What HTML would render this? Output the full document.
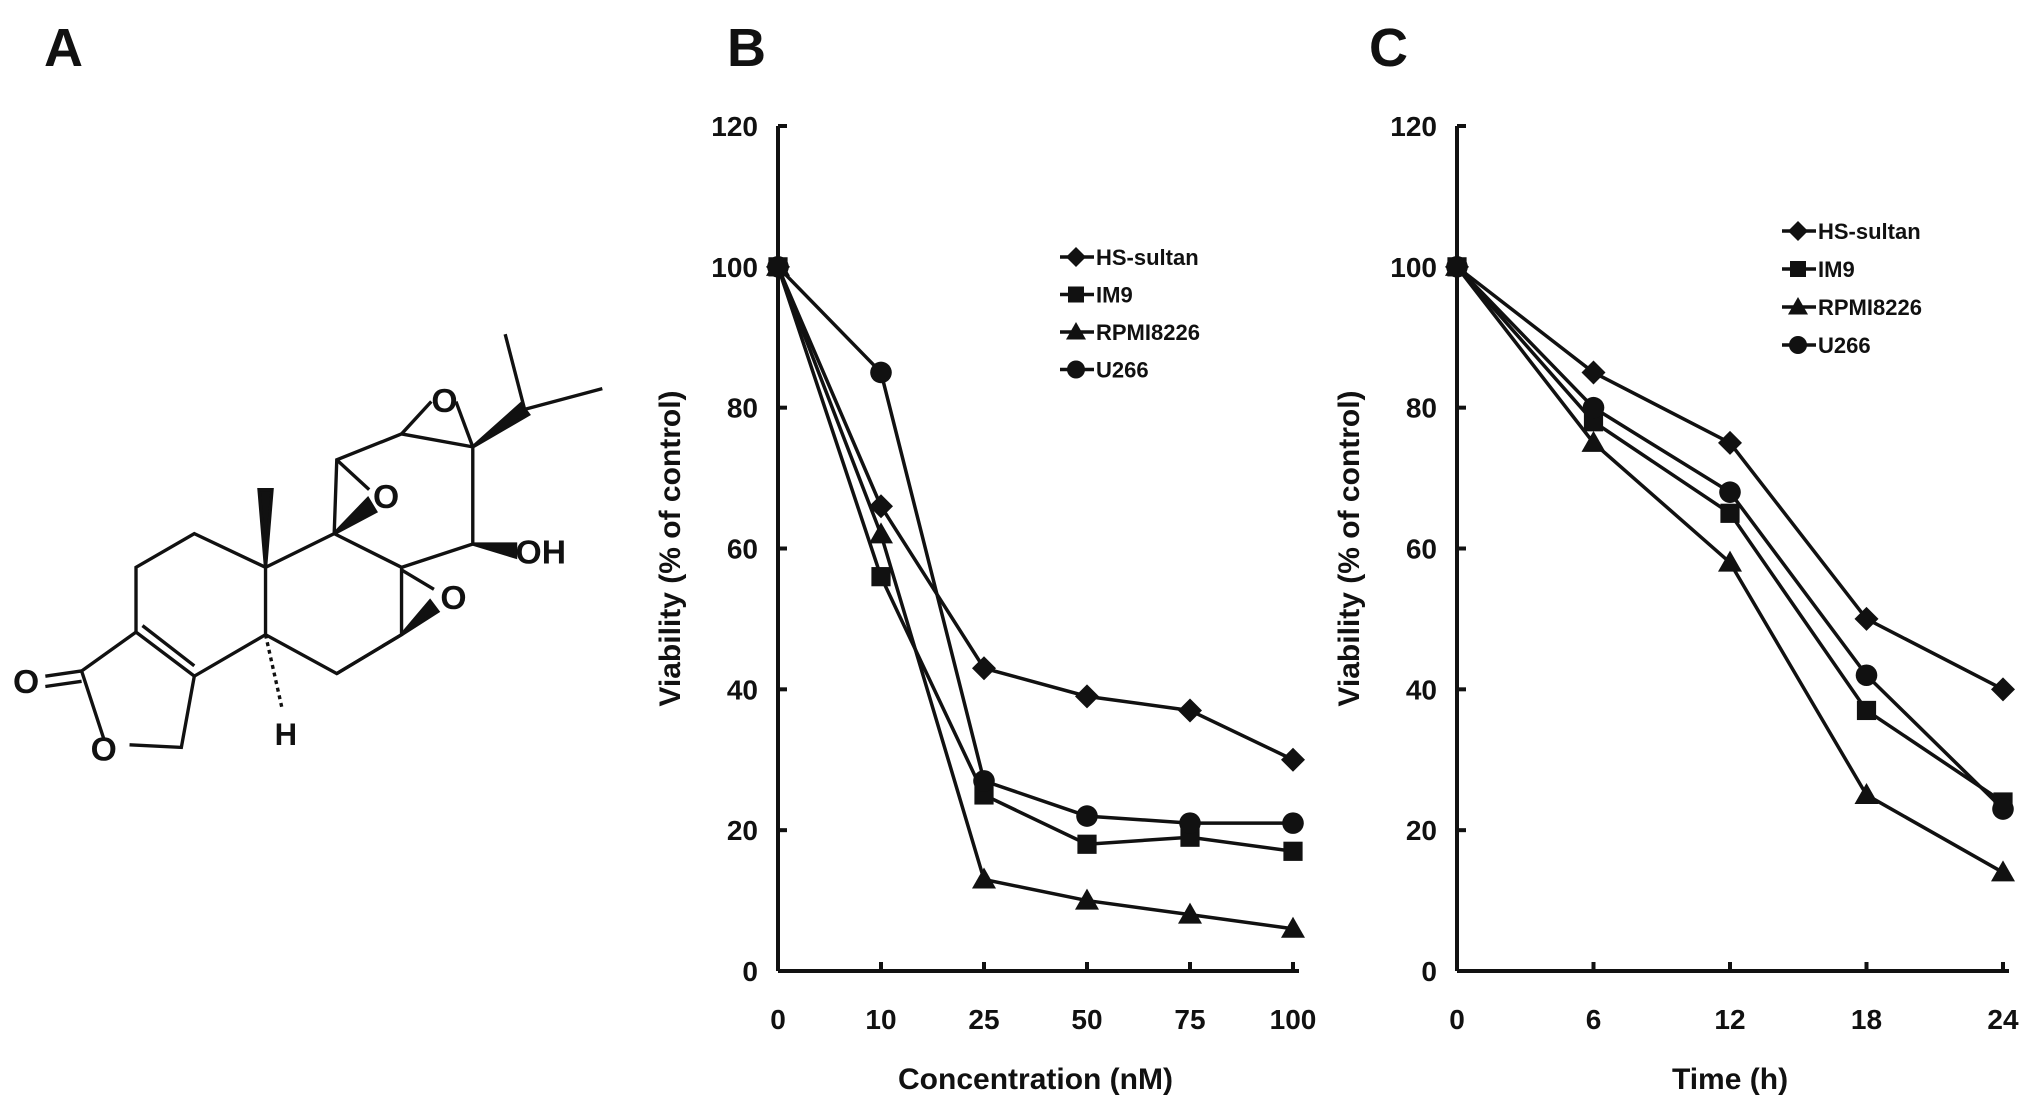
<!DOCTYPE html>
<html><head><meta charset="utf-8"><style>
html,body{margin:0;padding:0;background:#fff;width:2031px;height:1113px;overflow:hidden}
svg text{font-family:"Liberation Sans",sans-serif;font-weight:bold;fill:#111}
</style></head><body>
<svg id="fig" width="2031" height="1113" viewBox="0 0 2031 1113">
<text x="44" y="66" font-size="54">A</text>
<text x="727" y="66" font-size="54">B</text>
<text x="1369" y="66" font-size="54">C</text>
<g transform="scale(1.2953)" stroke="#111" stroke-width="2.6" fill="none">
<polyline points="105,488 105,438 150,412 205,438 205,490 150,522 105,488"/>
<line x1="110" y1="483" x2="150" y2="514"/>
<polyline points="105,488 63,518 80,570"/>
<polyline points="100,575 140,577 150,522"/>
<line x1="63" y1="518" x2="35" y2="522"/><line x1="63" y1="526" x2="35" y2="530"/>
<polyline points="205,438 258,412 310,438 310,490 260,520 205,490"/>
<polygon points="205,438 200,378 210,378" fill="#111"/>
<line x1="205" y1="490" x2="218" y2="548" stroke-dasharray="3,3"/>
<polyline points="258,412 260,355 310,335 365,345 365,420 310,438"/>
<polyline points="260,355 285,378"/><polygon points="258,412 290,395 284,385" fill="#111"/>
<polyline points="310,335 333,310"/><polyline points="352,310 365,345"/>
<polygon points="365,345 402,312 408,320" fill="#111"/>
<polyline points="405,316 390,258"/><polyline points="405,316 465,300"/>
<polygon points="365,420 398,420 398,430" fill="#111"/>
<polyline points="310,440 335,455"/><polygon points="310,490 338,472 332,464" fill="#111"/>
<polyline points="310,490 260,520"/>
</g>
<g transform="scale(1.2953)">
<text x="10" y="535" font-size="26" font-weight="normal">O</text>
<text x="70" y="587" font-size="26" font-weight="normal">O</text>
<text x="212" y="575" font-size="24">H</text>
<text x="333" y="318" font-size="26" font-weight="normal">O</text>
<text x="288" y="392" font-size="26" font-weight="normal">O</text>
<text x="340" y="470" font-size="26" font-weight="normal">O</text>
<text x="398" y="435" font-size="26" font-weight="normal">OH</text>
</g>
<g id="chartB"></g>
<g id="chartC"></g>
</svg>
<script>
const catsB = ["0","10","25","50","75","100"];
const hsB = [100,66,43,39,37,30];
const im9B = [100,56,25,18,19,17];
const rpmiB = [100,62,13,10,8,6];
const u266B = [100,85,27,22,21,21];
const catsC = ["0","6","12","18","24"];
const hsC = [100,85,75,50,40];
const im9C = [100,78,65,37,24];
const rpmiC = [100,75,58,25,14];
const u266C = [100,80,68,42,23];
const yTicks = [0,20,40,60,80,100,120];
const seriesNames = ["HS-sultan","IM9","RPMI8226","U266"];
const markers = ["diamond","square","triangle","circle"];
const NS="http://www.w3.org/2000/svg";
function mk(tag,attrs,parent){const e=document.createElementNS(NS,tag);for(const k in attrs)e.setAttribute(k,attrs[k]);parent.appendChild(e);return e;}
function marker(type,x,y,parent,s){
  let e;
  if(type==="diamond")e=mk("polygon",{points:`${x},${y-s} ${x+s},${y} ${x},${y+s} ${x-s},${y}`,fill:"#111"},parent);
  else if(type==="square")e=mk("rect",{x:x-s*0.8,y:y-s*0.8,width:s*1.6,height:s*1.6,fill:"#111"},parent);
  else if(type==="triangle")e=mk("polygon",{points:`${x},${y-s} ${x+s},${y+s*0.75} ${x-s},${y+s*0.75}`,fill:"#111"},parent);
  else e=mk("circle",{cx:x,cy:y,r:s*0.9,fill:"#111"},parent);
  return e;
}
function chart(gid,cats,series,cfg){
  const g=document.getElementById(gid);
  const X=i=>cfg.x0+(cfg.x1-cfg.x0)*i/(cats.length-1);
  const Y=v=>cfg.y0+(cfg.y120-cfg.y0)*v/120;
  let a=mk("line",{x1:cfg.x0,y1:cfg.y0,x2:cfg.x1+6,y2:cfg.y0,stroke:"#111","stroke-width":4},g);
  
  
  a=mk("line",{x1:cfg.x0,y1:cfg.y0,x2:cfg.x0,y2:cfg.y120,stroke:"#111","stroke-width":4},g);
  
  
  yTicks.forEach(v=>{
    mk("line",{x1:cfg.x0,y1:Y(v),x2:cfg.x0+9,y2:Y(v),stroke:"#111","stroke-width":4},g);
    const t=mk("text",{x:cfg.x0-20,y:Y(v)+10,"font-size":28,"text-anchor":"end"},g);t.textContent=v;
    
    
  });
  cats.forEach((c,i)=>{
    mk("line",{x1:X(i),y1:cfg.y0,x2:X(i),y2:cfg.y0-9,stroke:"#111","stroke-width":4},g);
    const t=mk("text",{x:X(i),y:cfg.y0+58,"font-size":28,"text-anchor":"middle"},g);t.textContent=c;
    
    
  });
  let t=mk("text",{x:(cfg.x0+cfg.x1)/2,y:cfg.y0+118,"font-size":30,"text-anchor":"middle"},g);t.textContent=cfg.xtitle;
  
  
  const cy=(cfg.y0+cfg.y120)/2;
  t=mk("text",{x:cfg.x0-98,y:cy,"font-size":30,"text-anchor":"middle",transform:`rotate(-90 ${cfg.x0-98} ${cy})`},g);t.textContent="Viability (% of control)";
  
  
  series.forEach((s,k)=>{
    const pl=mk("polyline",{points:s.map((v,i)=>X(i)+","+Y(v)).join(" "),fill:"none",stroke:"#111","stroke-width":3.5},g);
    
    
    s.forEach((v,i)=>{const m=marker(markers[k],X(i),Y(v),g,12);
      
      });
  });
  seriesNames.forEach((n,k)=>{
    const ly=cfg.ly+k*cfg.lgap;
    const lg=mk("g",{},g);
    
    
    mk("line",{x1:cfg.lx-16,y1:ly,x2:cfg.lx+18,y2:ly,stroke:"#111","stroke-width":3.5},lg);
    marker(markers[k],cfg.lx,ly,lg,10);
    const tt=mk("text",{x:cfg.lx+20,y:ly+8,"font-size":22},lg);tt.textContent=n;
  });
}
chart("chartB",catsB,[hsB,im9B,rpmiB,u266B],{x0:778,x1:1293,y0:971,y120:126,xtitle:"Concentration (nM)",lx:1076,ly:257,lgap:37.5});
chart("chartC",catsC,[hsC,im9C,rpmiC,u266C],{x0:1457,x1:2003,y0:971,y120:126,xtitle:"Time (h)",lx:1798,ly:231,lgap:38});
</script>
</body></html>
